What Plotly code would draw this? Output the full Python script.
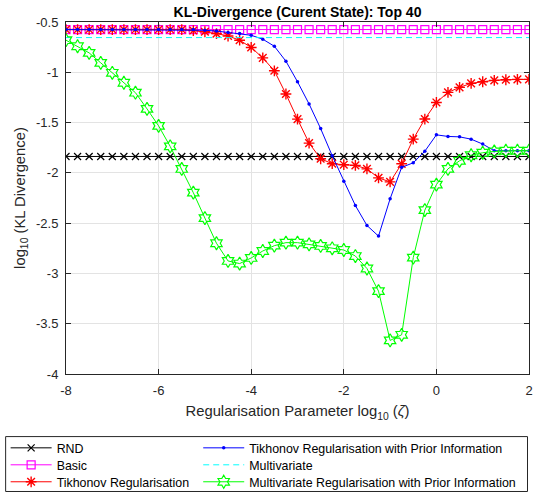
import plotly.graph_objects as go

# ---- data ----
log_zeta = [-8.0, -7.75, -7.5, -7.25, -7.0, -6.75, -6.5, -6.25, -6.0, -5.75,
            -5.5, -5.25, -5.0, -4.75, -4.5, -4.25, -4.0, -3.75, -3.5, -3.25,
            -3.0, -2.75, -2.5, -2.25, -2.0, -1.75, -1.5, -1.25, -1.0, -0.75,
            -0.5, -0.25, 0.0, 0.25, 0.5, 0.75, 1.0, 1.25, 1.5, 1.75, 2.0]

rnd = [-1.837] * 41
basic = [-0.575] * 41
multivariate = [-0.655] * 41
tikhonov = [-0.575] * 11 + [-0.585, -0.597, -0.615, -0.639, -0.681, -0.753, -0.857,
                            -0.985, -1.216, -1.466, -1.704, -1.86, -1.909, -1.919,
                            -1.926, -1.96, -2.05, -2.09, -1.91, -1.665, -1.465, -1.30,
                            -1.20, -1.15, -1.11, -1.094, -1.08, -1.074, -1.07, -1.07]
tikhonov_prior = [-0.575] * 12 + [-0.582, -0.59, -0.605, -0.615, -0.632, -0.671, -0.741,
                                  -0.89, -1.094, -1.315, -1.56, -1.83, -2.084, -2.325,
                                  -2.523, -2.629, -2.258, -1.945, -1.90, -1.785, -1.622,
                                  -1.638, -1.642, -1.665, -1.714, -1.78, -1.78, -1.78, -1.78]
multi_prior = [-0.681, -0.741, -0.807, -0.906, -1.005, -1.104, -1.203, -1.364, -1.533,
               -1.737, -1.961, -2.197, -2.45, -2.70, -2.876, -2.902, -2.846, -2.777,
               -2.724, -2.694, -2.694, -2.711, -2.727, -2.75, -2.767, -2.827, -2.951,
               -3.176, -3.666, -3.61, -2.843, -2.371, -2.117, -1.96, -1.88, -1.825,
               -1.80, -1.787, -1.78, -1.78, -1.78]

x_ticks = [-8, -6, -4, -2, 0, 2]
x_ticktext = ["-8", "-6", "-4", "-2", "0", "2"]
y_ticks = [-4, -3.5, -3, -2.5, -2, -1.5, -1, -0.5]
y_ticktext = ["-4", "-3.5", "-3", "-2.5", "-2", "-1.5", "-1", "-0.5"]

FONT = "Liberation Sans, Arial, sans-serif"
AX = "#262626"

fig = go.Figure()
fig.add_trace(go.Scatter(x=log_zeta, y=rnd, name="RND", mode="lines+markers",
                         line=dict(color="black", width=1),
                         marker=dict(symbol="x-thin-open", size=7, color="black",
                                     line=dict(width=1.2, color="black")),
                         legend="legend", showlegend=True))
fig.add_trace(go.Scatter(x=log_zeta, y=basic, name="Basic", mode="lines+markers",
                         line=dict(color="#ff00ff", width=1),
                         marker=dict(symbol="square-open", size=8, color="#ff00ff",
                                     line=dict(width=1.2, color="#ff00ff")),
                         legend="legend2", showlegend=True))
fig.add_trace(go.Scatter(x=log_zeta, y=tikhonov, name="Tikhonov Regularisation",
                         mode="lines+markers",
                         line=dict(color="#ff0000", width=1),
                         marker=dict(symbol="asterisk-open", size=9, color="#ff0000",
                                     line=dict(width=1.4, color="#ff0000")),
                         legend="legend3", showlegend=True))
fig.add_trace(go.Scatter(x=log_zeta, y=tikhonov_prior,
                         name="Tikhonov Regularisation with Prior Information",
                         mode="lines+markers",
                         line=dict(color="#0000ff", width=1),
                         marker=dict(symbol="circle", size=3.5, color="#0000ff"),
                         legend="legend4", showlegend=True))
fig.add_trace(go.Scatter(x=log_zeta, y=multivariate, name="Multivariate", mode="lines",
                         line=dict(color="#00ffff", width=1, dash="6px,4px"),
                         legend="legend5", showlegend=True))
fig.add_trace(go.Scatter(x=log_zeta, y=multi_prior,
                         name="Multivariate Regularisation with Prior Information",
                         mode="lines+markers",
                         line=dict(color="#00ff00", width=1),
                         marker=dict(symbol="hexagram-open", size=10, color="#00ff00",
                                     line=dict(width=1.2, color="#00ff00")),
                         legend="legend6", showlegend=True))

W, H = 533, 495
L, R, T, B = 65.5, 3.5, 21.7, 120.7
pw, ph = W - L - R, H - T - B

def px2x(px):
    return (px - L) / pw

def py2y(py):
    return (H - B - py) / ph

leg_common = dict(font=dict(family=FONT, size=12.4, color="black"), bgcolor="rgba(0,0,0,0)",
                  borderwidth=0, itemwidth=41, xanchor="left", yanchor="middle",
                  orientation="v", visible=True)
rows = [448.7, 465.7, 482.7]
col_x = [5, 198]
legs = {}
names = ["legend", "legend2", "legend3", "legend4", "legend5", "legend6"]
for i, nm in enumerate(names):
    c = i // 3
    r = i % 3
    legs[nm] = dict(leg_common, x=px2x(col_x[c]), y=py2y(rows[r]))

fig.update_layout(
    width=W, height=H,
    showlegend=True,
    margin=dict(l=L, r=R, t=T, b=B, pad=0, autoexpand=False),
    paper_bgcolor="white", plot_bgcolor="white",
    font=dict(family=FONT, color=AX),
    title=dict(text="<b>KL-Divergence (Curent State): Top 40</b>",
               font=dict(family=FONT, size=14, color="black"),
               x=0.5, xref="paper", xanchor="center", y=1 - 12 / H, yanchor="middle"),
    xaxis=dict(range=[-8, 2], tickvals=x_ticks, ticktext=x_ticktext,
               ticks="inside", ticklen=5, tickcolor=AX, tickwidth=1,
               showline=True, linecolor=AX, linewidth=1, mirror="ticks",
               showgrid=True, gridcolor="#e3e3e3", gridwidth=1, zeroline=False,
               tickfont=dict(family=FONT, size=13, color=AX),
               ticklabelstandoff=4,
               title=dict(text="Regularisation Parameter log<sub>10</sub> (<i>ζ</i>)",
                          font=dict(family=FONT, size=14.8, color=AX), standoff=9)),
    yaxis=dict(range=[-4, -0.5], tickvals=y_ticks, ticktext=y_ticktext,
               ticks="inside", ticklen=5, tickcolor=AX, tickwidth=1,
               showline=True, linecolor=AX, linewidth=1, mirror="ticks",
               showgrid=True, gridcolor="#e3e3e3", gridwidth=1, zeroline=False,
               tickfont=dict(family=FONT, size=13, color=AX),
               ticklabelstandoff=4,
               title=dict(text="log<sub>10</sub> (KL Divergence)",
                          font=dict(family=FONT, size=14.8, color=AX), standoff=6)),
    shapes=[dict(type="rect", xref="paper", yref="paper",
                 x0=px2x(5), x1=px2x(528), y0=py2y(492), y1=py2y(437),
                 line=dict(color=AX, width=1), fillcolor="rgba(0,0,0,0)", layer="above")],
    **legs,
)

fig.write_html("out.html")
